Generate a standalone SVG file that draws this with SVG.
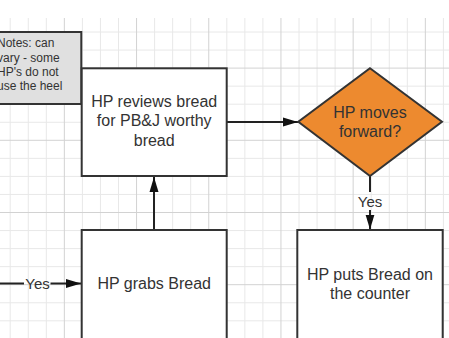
<svg xmlns="http://www.w3.org/2000/svg" width="449" height="338" viewBox="0 0 449 338">
  <defs>
    <style>
      .minor { stroke: #e8e8e8; stroke-width: 1; fill: none; }
      .major { stroke: #d2d2d2; stroke-width: 1; fill: none; }
      .box { fill: #ffffff; stroke: #333333; stroke-width: 2; }
      .note { fill: #e0e0e0; stroke: #333333; stroke-width: 2; }
      .dec { fill: #ed8a2f; stroke: #333333; stroke-width: 2; }
      .edge { stroke: #222222; stroke-width: 2; fill: none; }
      text { font-family: "Liberation Sans", Arial, sans-serif; fill: #333333; }
      .lbl { font-size: 16px; text-anchor: middle; }
      .nt { font-size: 12px; }
      .yes { font-size: 15px; text-anchor: middle; }
    </style>
    <marker id="arr" markerUnits="userSpaceOnUse" markerWidth="15" markerHeight="10" refX="15" refY="5" orient="auto">
      <path d="M0,0.5 L15,5 L0,9.5 z" fill="#111111"/>
    </marker>
  </defs>
  <rect x="0" y="0" width="449" height="338" fill="#ffffff"/>
  <g id="grid">
    <path class="minor" d="M10.2,18V338 M28.25,18V338 M46.3,18V338 M82.4,18V338 M100.45,18V338 M118.5,18V338 M154.6,18V338 M172.65,18V338 M190.7,18V338 M226.8,18V338 M244.85,18V338 M262.9,18V338 M299,18V338 M317.05,18V338 M335.1,18V338 M371.2,18V338 M389.25,18V338 M407.3,18V338 M443.4,18V338
    M0,32H449 M0,50.05H449 M0,86.15H449 M0,104.2H449 M0,122.25H449 M0,158.35H449 M0,176.4H449 M0,194.45H449 M0,230.55H449 M0,248.6H449 M0,266.65H449 M0,302.75H449 M0,320.8H449"/>
    <path class="major" d="M64.35,18V338 M136.55,18V338 M208.75,18V338 M280.95,18V338 M353.15,18V338 M425.35,18V338
    M0,68.1H449 M0,140.3H449 M0,212.5H449 M0,284.7H449"/>
  </g>
  <g id="connectors">
    <line class="edge" x1="154" y1="230" x2="154" y2="177" marker-end="url(#arr)"/>
    <line class="edge" x1="227" y1="122" x2="298" y2="122" marker-end="url(#arr)"/>
    <line class="edge" x1="370" y1="176" x2="370" y2="192"/>
    <text class="yes" x="370" y="206.5">Yes</text>
    <line class="edge" x1="370" y1="210" x2="370" y2="229.5" marker-end="url(#arr)"/>
    <line class="edge" x1="0" y1="283.5" x2="24" y2="283.5"/>
    <text class="yes" x="37.5" y="288.5">Yes</text>
    <line class="edge" x1="50.5" y1="283.5" x2="81" y2="283.5" marker-end="url(#arr)"/>
  </g>
  <g id="notes">
    <rect class="note" x="-20" y="32" width="101.3" height="72"/>
    <text class="nt" x="-3" y="47.3">Notes: can</text>
    <text class="nt" x="-3" y="61.5">vary - some</text>
    <text class="nt" x="-3" y="75.5">HP's do not</text>
    <text class="nt" x="-3" y="89.5">use the heel</text>
  </g>
  <g id="review">
    <rect class="box" x="81.7" y="68.3" width="145" height="107.7"/>
    <text class="lbl" x="154.2" y="106.8">HP reviews bread</text>
    <text class="lbl" x="154.2" y="126.3">for PB&amp;J worthy</text>
    <text class="lbl" x="154.2" y="145.8">bread</text>
  </g>
  <g id="decision">
    <polygon class="dec" points="370,68.3 442,121.8 370,176 298.3,121.8"/>
    <text class="lbl" x="370" y="118">HP moves</text>
    <text class="lbl" x="370" y="137">forward?</text>
  </g>
  <g id="grabs">
    <rect class="box" x="81.7" y="230" width="145" height="120"/>
    <text class="lbl" x="154.2" y="289">HP grabs Bread</text>
  </g>
  <g id="puts">
    <rect class="box" x="297.3" y="230" width="145.4" height="120"/>
    <text class="lbl" x="370" y="280">HP puts Bread on</text>
    <text class="lbl" x="370" y="299">the counter</text>
  </g>
</svg>
